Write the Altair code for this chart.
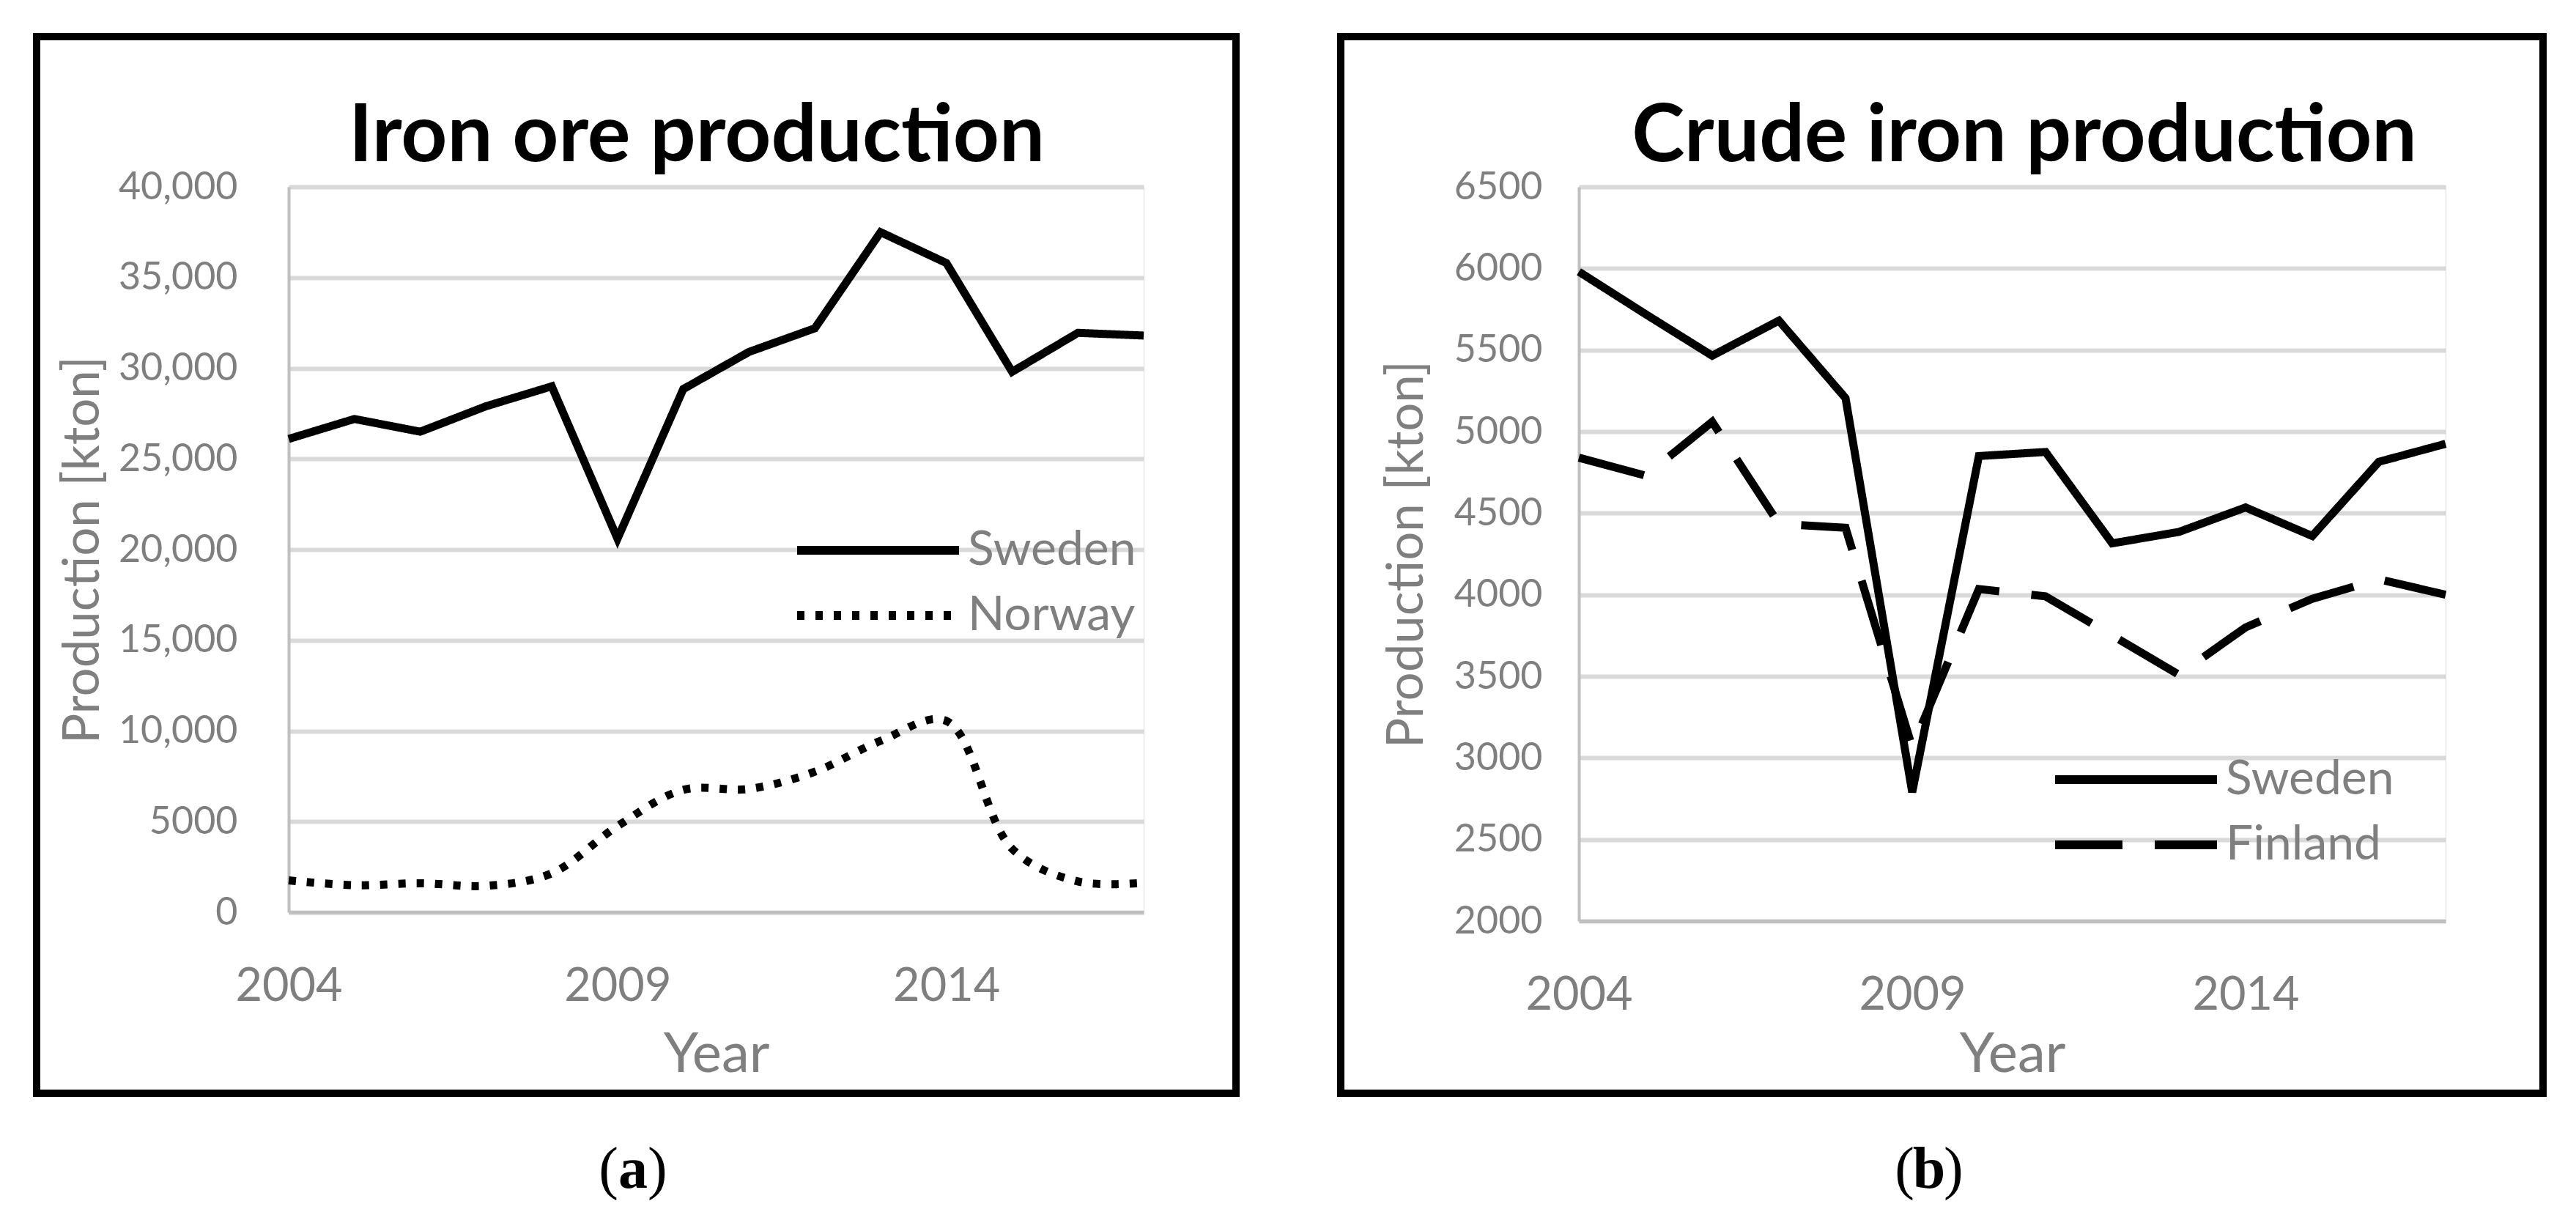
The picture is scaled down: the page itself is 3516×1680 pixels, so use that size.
import altair as alt
import pandas as pd

years = [2004, 2005, 2006, 2007, 2008, 2009, 2010, 2011, 2012, 2013, 2014, 2015, 2016, 2017]
a_sweden = [26100, 27200, 26500, 27900, 29000, 20600, 28850, 30900, 32200, 37500, 35800, 29800, 31950, 31800]
a_norway = [1760, 1490, 1600, 1460, 2150, 4750, 6750, 6800, 7750, 9450, 10550, 3500, 1700, 1620]
b_sweden = [5980, 5720, 5465, 5680, 5205, 2790, 4850, 4875, 4315, 4385, 4535, 4360, 4815, 4925]
b_finland = [4840, 4730, 5060, 4435, 4410, 3065, 4035, 3990, 3750, 3510, 3800, 3975, 4095, 4000]
titles = ["Iron ore production", "Crude iron production"]
captions = ["a", "b"]
x_ticks = [2004, 2009, 2014]
a_yticks = [0, 5000, 10000, 15000, 20000, 25000, 30000, 35000, 40000]
b_yticks = [2000, 2500, 3000, 3500, 4000, 4500, 5000, 5500, 6000, 6500]
y_title = "Production [kton]"
x_title = "Year"

GRAY = "#7f7f7f"
FONT = "Lato"


def series_df(vals, name):
    return pd.DataFrame({"year": years, "value": vals, "country": name})


def panel(s1, s2, names, dashes, ydom, yticks, title, cap, w, h, frame, title_x, title_size,
          legend_x, legend_y, lab_pad, ytitle_x, interp2, label_expr, cap_x, xt_pad):
    xs = alt.X("year:Q", scale=alt.Scale(domain=[years[0], years[-1]], nice=False, zero=False),
               axis=alt.Axis(values=x_ticks, format="d", grid=False, ticks=False, labelFlush=False,
                             domainColor="#bfbfbf", domainWidth=5, labelFont=FONT,
                             labelFontSize=63, labelColor=GRAY, labelPadding=70,
                             title=x_title, titleFont=FONT, titleFontSize=76, titleColor=GRAY,
                             titleFontWeight="normal", titlePadding=xt_pad))
    ys = alt.Y("value:Q", scale=alt.Scale(domain=ydom, nice=False, zero=False),
               axis=alt.Axis(values=yticks, labelExpr=label_expr, grid=True, gridColor="#d9d9d9",
                             gridWidth=6, ticks=False, domainColor="#bfbfbf", domainWidth=4,
                             labelFont=FONT, labelFontSize=52, labelColor=GRAY,
                             labelPadding=lab_pad, title=y_title, titleFont=FONT,
                             titleFontSize=69, titleColor=GRAY, titleFontWeight="normal",
                             titleX=ytitle_x, titleY=h / 2, titleAngle=270,
                             titleAlign="center", titleBaseline="middle"))
    dash = alt.StrokeDash("country:N", scale=alt.Scale(domain=names, range=dashes),
                          legend=alt.Legend(title=None, orient="none", legendX=legend_x,
                                            legendY=legend_y, symbolType="stroke",
                                            symbolSize=48841, symbolStrokeWidth=12,
                                            symbolStrokeColor="black", labelFont=FONT,
                                            labelFontSize=66, labelColor=GRAY, labelOffset=6,
                                            labelLimit=0, clipHeight=66, rowPadding=23,
                                            padding=0))
    l1 = alt.Chart(s1).mark_line(color="black", strokeWidth=11).encode(x=xs, y=ys, strokeDash=dash)
    l2 = alt.Chart(s2).mark_line(color="black", strokeWidth=11, interpolate=interp2).encode(
        x=xs, y=ys, strokeDash=dash)
    one = pd.DataFrame({"t": [title], "c": [cap]})
    base = alt.Chart(one)
    fr = base.mark_rect(filled=False, stroke="black", strokeWidth=10).encode(
        x=alt.value(frame[0]), x2=alt.value(frame[1]), y=alt.value(frame[2]), y2=alt.value(frame[3]))
    tt = base.mark_text(font=FONT, fontWeight="bold", fontSize=title_size, align="center",
                        baseline="alphabetic", color="black").encode(
        text="t:N", x=alt.value(title_x), y=alt.value(-35))
    cy = 1366
    c_mid = base.mark_text(font="Liberation Serif", fontWeight="bold", fontSize=80, align="center",
                           baseline="alphabetic", color="black").encode(
        text="c:N", x=alt.value(cap_x), y=alt.value(cy))
    c_l = base.mark_text(font="Liberation Serif", fontSize=80, align="right", baseline="alphabetic",
                         color="black", text="(").encode(x=alt.value(cap_x - 20), y=alt.value(cy))
    c_r = base.mark_text(font="Liberation Serif", fontSize=80, align="left", baseline="alphabetic",
                         color="black", text=")").encode(x=alt.value(cap_x + 20), y=alt.value(cy))
    return alt.layer(l1, l2, fr, tt, c_mid, c_l, c_r).properties(width=w, height=h)


pa = panel(series_df(a_sweden, "Sweden"), series_df(a_norway, "Norway"), ["Sweden", "Norway"],
           [[1, 0], [10, 15]], [0, 40000], a_yticks, titles[0], captions[0], 1167, 990,
           (-344, 1293, -205, 1237), 557, 110, 688, 463, 70, -281, "catmull-rom",
           "datum.value >= 10000 ? format(datum.value, ',') : format(datum.value, 'd')", 470, 24)
pb = panel(series_df(b_sweden, "Sweden"), series_df(b_finland, "Finland"), ["Sweden", "Finland"],
           [[1, 0], [92, 44]], [2000, 6500], b_yticks, titles[1], captions[1], 1183, 1002,
           (-325, 1316, -205, 1237), 608, 109, 644, 776, 50, -235, "linear",
           "format(datum.value, 'd')", 478, 12)

chart = alt.hconcat(pa, pb, spacing=131).resolve_scale(strokeDash="independent").properties(
    padding={"left": 36, "top": 36, "right": 10, "bottom": 10}
).configure_view(stroke=None).configure(background="white")

chart.save("out.html", embed_options={"renderer": "svg", "actions": False})
